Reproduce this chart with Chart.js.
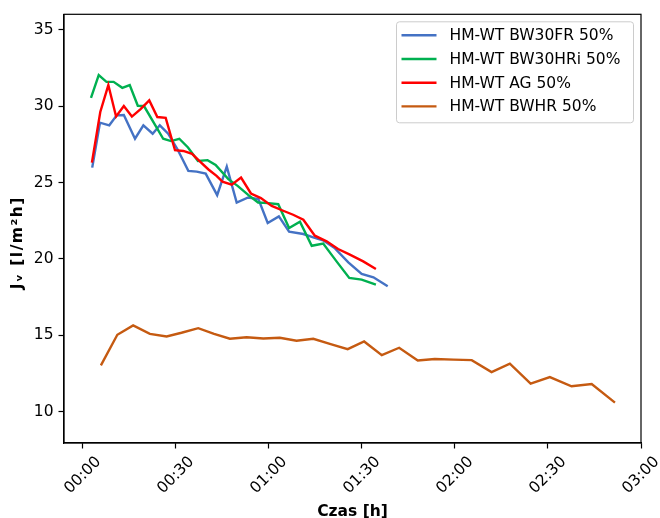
<!DOCTYPE html>
<html>
<head>
<meta charset="utf-8">
<script src="https://cdn.jsdelivr.net/npm/chart.js@4.4.1/dist/chart.umd.min.js"></script>
<style>
    html, body { margin: 0; padding: 0; background: #fff; }
</style>
</head>
<body>
<canvas id="chart" width="660" height="518"></canvas>
<script>
// ===================== DATA =====================

const seriesNames = ['HM-WT BW30FR 50%', 'HM-WT BW30HRi 50%', 'HM-WT AG 50%', 'HM-WT BWHR 50%'];
const seriesColors = ['#4472C4', '#00B050', '#FF0000', '#C55A11'];

// time in minutes, flux in l/m2h
const bw30frTime = [3.0, 5.5, 8.5, 10.9, 13.2, 16.8, 19.5, 22.5, 24.8, 27.5, 30.5, 34.0, 36.7, 39.6, 43.3,
                    46.4, 49.6, 53.3, 56.6, 59.6, 63.2, 66.5, 71.1, 74.3, 77.7, 81.3, 85.6, 89.9, 93.7, 98.3];
const bw30frFlux = [25.97, 28.91, 28.74, 29.39, 29.41, 27.86, 28.74, 28.19, 28.74, 28.19, 27.17, 25.76, 25.71, 25.58, 24.17,
                    26.04, 23.69, 24.02, 23.91, 22.35, 22.78, 21.78, 21.63, 21.41, 21.19, 20.69, 19.78, 19.02, 18.80, 18.21];

const bw30hriTime = [2.6, 5.1, 7.6, 9.9, 12.7, 15.1, 17.7, 19.7, 25.9, 28.4, 31.1, 33.9, 37.1, 40.2, 42.8,
                     46.9, 49.9, 53.3, 56.5, 59.8, 63.0, 66.5, 70.0, 73.8, 77.5, 81.8, 85.9, 89.9, 94.5];
const bw30hriFlux = [30.54, 32.02, 31.58, 31.58, 31.19, 31.37, 30.02, 30.0, 27.86, 27.71, 27.86, 27.29, 26.41, 26.46, 26.15,
                     25.22, 24.78, 24.19, 23.69, 23.65, 23.58, 22.02, 22.43, 20.86, 21.01, 19.84, 18.76, 18.65, 18.32];

const agTime = [2.9, 5.6, 8.2, 10.7, 13.2, 15.8, 18.6, 21.4, 24.0, 26.7, 29.7, 32.4, 35.2, 37.7, 40.5, 43.1,
                45.0, 48.0, 51.0, 54.2, 57.4, 60.9, 64.6, 67.8, 71.1, 74.8, 78.6, 82.3, 86.1, 90.4, 94.5];
const agFlux = [26.30, 29.61, 31.37, 29.31, 30.0, 29.31, 29.80, 30.37, 29.28, 29.23, 27.11, 27.06, 26.87, 26.38, 25.85, 25.43,
                25.05, 24.86, 25.32, 24.28, 23.98, 23.47, 23.15, 22.89, 22.56, 21.52, 21.15, 20.65, 20.28, 19.84, 19.34];

const bwhrTime = [5.8, 11.1, 16.2, 21.6, 27.0, 31.8, 37.2, 42.3, 47.4, 52.8, 58.2, 63.5, 68.9, 74.3, 79.9,
                  85.4, 90.7, 96.4, 102.0, 108.0, 113.5, 119.5, 125.4, 131.8, 137.7, 144.4, 150.6, 157.6, 164.1, 171.6];
const bwhrFlux = [13.04, 15.04, 15.65, 15.10, 14.93, 15.17, 15.47, 15.10, 14.78, 14.88, 14.80, 14.84, 14.65, 14.78, 14.43,
                  14.10, 14.60, 13.71, 14.19, 13.36, 13.45, 13.41, 13.38, 12.60, 13.15, 11.84, 12.27, 11.67, 11.82, 10.60];

const xTickValues = [0, 30, 60, 90, 120, 150, 180];
const xTickLabels = ['00:00', '00:30', '01:00', '01:30', '02:00', '02:30', '03:00'];
const yTickValues = [10, 15, 20, 25, 30, 35];

const xTitle = 'Czas [h]';
const yTitle = 'Jᵥ [l/m²h]';

// ===================== STYLE =====================

const FONT = 'DejaVu Sans';
const FS = 15.5;
const TICK_LEN = 5.5;

function toPoints(xs, ys) {
    return xs.map((x, i) => ({ x: x, y: ys[i] }));
}

const seriesData = [
    toPoints(bw30frTime, bw30frFlux),
    toPoints(bw30hriTime, bw30hriFlux),
    toPoints(agTime, agFlux),
    toPoints(bwhrTime, bwhrFlux)
];

// ===================== PLUGINS =====================

// full box around plot area (matplotlib spines)
const framePlugin = {
    id: 'frame',
    afterDatasetsDraw(chart) {
        const a = chart.chartArea, ctx = chart.ctx;
        ctx.save();
        ctx.strokeStyle = '#000';
        ctx.lineWidth = 1.2;
        ctx.strokeRect(a.left, a.top, a.right - a.left, a.bottom - a.top);
        ctx.restore();
    }
};

// x tick labels rotated 45deg, centred under the tick; y title a bit wider spaced
const labelPlugin = {
    id: 'axisLabels',
    afterDraw(chart) {
        const scale = chart.scales.x, ctx = chart.ctx, a = chart.chartArea;
        ctx.save();
        ctx.font = FS + 'px "' + FONT + '"';
        ctx.fillStyle = '#000';
        ctx.textAlign = 'center';
        ctx.textBaseline = 'middle';
        const top = a.bottom + TICK_LEN + 5.5;
        scale.ticks.forEach((t) => {
            const label = xTickLabels[xTickValues.indexOf(t.value)];
            const w = ctx.measureText(label).width;
            const boxH = (w + FS) * Math.SQRT1_2;
            const x = scale.getPixelForValue(t.value);
            ctx.save();
            ctx.translate(x, top + boxH / 2);
            ctx.rotate(-Math.PI / 4);
            ctx.fillText(label, 0, 0);
            ctx.restore();
        });

        // y axis title
        ctx.font = 'bold ' + FS + 'px "' + FONT + '"';
        ctx.letterSpacing = '1.5px';
        ctx.translate(17.5, (a.top + a.bottom) / 2 + 14);
        ctx.rotate(-Math.PI / 2);
        ctx.fillText(yTitle, 0, 0);
        ctx.restore();
    }
};

// legend box in the upper right corner
const legendPlugin = {
    id: 'boxLegend',
    afterDraw(chart) {
        const a = chart.chartArea, ctx = chart.ctx;
        const right = a.right - 7.5, top = a.top + 7.5;
        const w = 237, h = 101, left = right - w;
        ctx.save();
        ctx.beginPath();
        ctx.roundRect(left, top, w, h, 3);
        ctx.fillStyle = 'rgba(255,255,255,0.8)';
        ctx.fill();
        ctx.strokeStyle = '#cccccc';
        ctx.lineWidth = 1;
        ctx.stroke();
        ctx.font = FS + 'px "' + FONT + '"';
        ctx.textBaseline = 'middle';
        ctx.textAlign = 'left';
        chart.data.datasets.forEach((ds, i) => {
            const y = top + 13.5 + i * 23.7;
            ctx.beginPath();
            ctx.moveTo(left + 5, y);
            ctx.lineTo(left + 40, y);
            ctx.strokeStyle = ds.borderColor;
            ctx.lineWidth = 2.4;
            ctx.stroke();
            ctx.fillStyle = '#000';
            ctx.fillText(ds.label, left + 53, y + 1);
        });
        ctx.restore();
    }
};

// ===================== CHART =====================

const datasets = seriesNames.map((name, i) => ({
    label: name,
    data: seriesData[i],
    borderColor: seriesColors[i],
    backgroundColor: seriesColors[i],
    borderWidth: 2.4,
    pointRadius: 0,
    tension: 0,
    fill: false,
    order: seriesNames.length - i
}));

new Chart(document.getElementById('chart'), {
    type: 'line',
    data: { datasets },
    options: {
        responsive: false,
        animation: false,
        devicePixelRatio: 1,
        layout: { padding: { left: 0, right: 19, top: 13, bottom: 0 } },
        plugins: {
            legend: { display: false },
            tooltip: { enabled: false }
        },
        scales: {
            x: {
                type: 'linear',
                min: -6.1,
                max: 180,
                afterBuildTicks: (scale) => { scale.ticks = xTickValues.map(v => ({ value: v })); },
                afterFit: (scale) => { scale.height = 75; },
                ticks: { display: false },
                grid: {
                    drawOnChartArea: false,
                    drawTicks: true,
                    tickLength: TICK_LEN,
                    tickColor: '#000',
                    tickWidth: 1.2
                },
                border: { display: true, color: '#000', width: 1.2 },
                title: {
                    display: true,
                    text: xTitle,
                    color: '#000',
                    font: { family: FONT, size: FS, weight: 'bold' },
                    padding: { top: 0, bottom: -3 }
                }
            },
            y: {
                type: 'linear',
                min: 7.96,
                max: 36.0,
                afterBuildTicks: (scale) => { scale.ticks = yTickValues.map(v => ({ value: v })); },
                afterFit: (scale) => { scale.width = 64; },
                ticks: {
                    color: '#000',
                    padding: 5,
                    font: { family: FONT, size: FS }
                },
                grid: {
                    drawOnChartArea: false,
                    drawTicks: true,
                    tickLength: TICK_LEN,
                    tickColor: '#000',
                    tickWidth: 1.2
                },
                border: { display: true, color: '#000', width: 1.2 },
                title: { display: false }
            }
        }
    },
    plugins: [framePlugin, labelPlugin, legendPlugin]
});
</script>
</body>
</html>
